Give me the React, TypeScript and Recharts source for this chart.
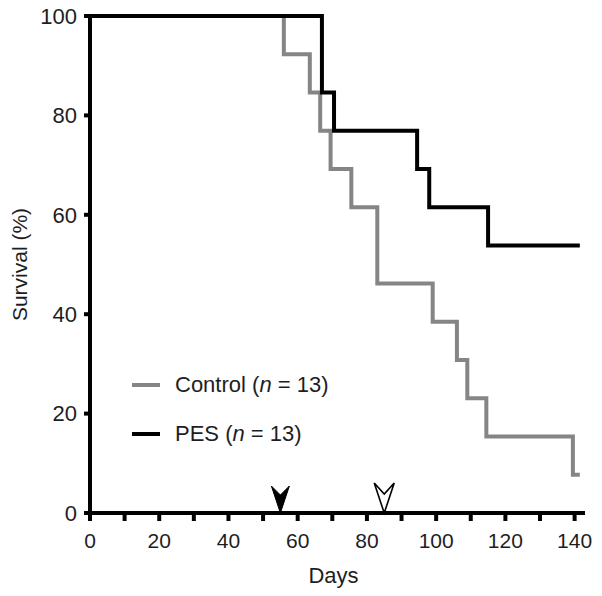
import { Legend, Line, LineChart, ReferenceDot, XAxis, YAxis } from 'recharts';

// Kaplan-Meier steps (days, % surviving)
const controlDays = [0, 56, 63.5, 66.5, 69.5, 75.5, 83, 99, 106, 109, 114.5, 139.5, 141.5];
const controlSurvival = [100, 92.3, 84.6, 76.9, 69.2, 61.5, 46.2, 38.5, 30.8, 23.1, 15.4, 7.7, 7.7];
const pesDays = [0, 67, 70.5, 94.5, 98, 115, 141.5];
const pesSurvival = [100, 84.6, 76.9, 69.2, 61.5, 53.8, 53.8];

const xTicks = [0, 10, 20, 30, 40, 50, 60, 70, 80, 90, 100, 110, 120, 130, 140];
const yTicks = [0, 20, 40, 60, 80, 100];
// treatment markers on the time axis
const filledMarkerDay = 55;
const openMarkerDay = 85;

const controlData = controlDays.map((day, i) => ({ day, survival: controlSurvival[i] }));
const pesData = pesDays.map((day, i) => ({ day, survival: pesSurvival[i] }));

const font = '"Liberation Sans", Arial, Helvetica, sans-serif';
const textColor = '#1e1e1e';
const gray = '#858585';

function Arrowhead({ cx, cy, hollow }: { cx?: number; cy?: number; hollow?: boolean }) {
  if (cx == null || cy == null) return null;
  const d = hollow
    ? `M${cx},${cy} L${cx - 10},${cy - 30} L${cx},${cy - 19} L${cx + 10},${cy - 30} Z`
    : `M${cx},${cy} L${cx - 9},${cy - 27} L${cx},${cy - 18} L${cx + 9},${cy - 27} Z`;
  return hollow ? (
    <path d={d} fill="#fff" stroke="#000" strokeWidth={1.6} strokeLinejoin="miter" />
  ) : (
    <path d={d} fill="#000" stroke="#000" strokeWidth={1} />
  );
}

function YLabel({ viewBox }: { viewBox?: { x: number; y: number; width: number; height: number } }) {
  if (!viewBox) return null;
  const cy = viewBox.y + viewBox.height / 2;
  return (
    <text
      x={19}
      y={cy}
      transform={`rotate(-90, 19, ${cy})`}
      textAnchor="middle"
      dominantBaseline="central"
      fontSize={21}
      fill={textColor}
      fontFamily={font}
    >
      Survival (%)
    </text>
  );
}

function LegendBox() {
  const rows = [
    { name: 'Control', color: gray },
    { name: 'PES', color: '#000' },
  ];
  return (
    <div style={{ fontFamily: font, fontSize: 22, color: textColor }}>
      {rows.map((r) => (
        <div key={r.name} style={{ display: 'flex', alignItems: 'center', height: 49 }}>
          <svg width={28} height={6} style={{ marginRight: 15 }}>
            <line x1={0} x2={28} y1={3} y2={3} stroke={r.color} strokeWidth={4} />
          </svg>
          <span>
            {r.name} (<i>n</i> = 13)
          </span>
        </div>
      ))}
    </div>
  );
}

export default function App() {
  return (
    <div style={{ position: 'absolute', left: 0, top: 0, background: '#fff' }}>
      <LineChart width={602} height={596} margin={{ top: 16, right: 17, bottom: 13, left: 0 }}>
        <XAxis
          dataKey="day"
          type="number"
          domain={[0, 143]}
          ticks={xTicks}
          interval={0}
          tickFormatter={(v: number) => (v % 20 === 0 ? String(v) : '')}
          height={70}
          tickSize={8}
          tickMargin={12}
          axisLine={{ stroke: '#000', strokeWidth: 4 }}
          tickLine={{ stroke: '#000', strokeWidth: 4 }}
          tick={{ fontSize: 21, fill: textColor, fontFamily: font }}
          label={{ value: 'Days', position: 'insideBottom', offset: 0, dx: -4, fontSize: 22, fill: textColor, fontFamily: font }}
        />
        <YAxis
          type="number"
          domain={[0, 100]}
          ticks={yTicks}
          interval={0}
          width={90}
          tickSize={6}
          tickMargin={7}
          axisLine={{ stroke: '#000', strokeWidth: 4 }}
          tickLine={{ stroke: '#000', strokeWidth: 4 }}
          tick={{ fontSize: 22, fill: textColor, fontFamily: font }}
          label={<YLabel />}
        />
        <Legend
          layout="vertical"
          verticalAlign="middle"
          align="center"
          content={() => <LegendBox />}
          wrapperStyle={{ left: 132, top: 360, width: 'auto' }}
        />
        <Line
          data={controlData}
          dataKey="survival"
          name="Control"
          type="stepAfter"
          stroke={gray}
          strokeWidth={4}
          strokeLinejoin="miter"
          dot={false}
          activeDot={false}
          isAnimationActive={false}
        />
        <Line
          data={pesData}
          dataKey="survival"
          name="PES"
          type="stepAfter"
          stroke="#000"
          strokeWidth={4}
          strokeLinejoin="miter"
          dot={false}
          activeDot={false}
          isAnimationActive={false}
        />
        <ReferenceDot x={filledMarkerDay} y={0} ifOverflow="visible" shape={<Arrowhead />} />
        <ReferenceDot x={openMarkerDay} y={0} ifOverflow="visible" shape={<Arrowhead hollow />} />
      </LineChart>
    </div>
  );
}
